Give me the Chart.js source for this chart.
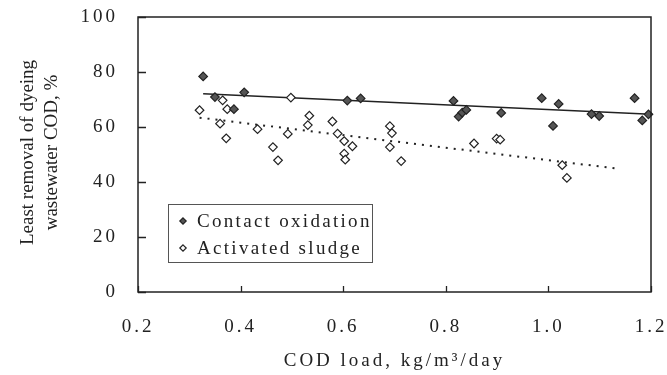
<!DOCTYPE html>
<html>
<head>
<meta charset="utf-8">
<script src="https://cdn.jsdelivr.net/npm/chart.js@4/dist/chart.umd.min.js"></script>
<style>
  html, body { margin: 0; padding: 0; background: #fff; }
  #wrap { width: 667px; height: 375px; }
</style>
</head>
<body>
<div id="wrap"><canvas id="chart-cod" width="667" height="375"></canvas></div>
<script>
'use strict';

// Datos
const contactLoad = [0.327, 0.350, 0.387, 0.407, 0.608, 0.634, 0.815, 0.825, 0.832, 0.840,
  0.908, 0.987, 1.009, 1.020, 1.084, 1.099, 1.168, 1.183, 1.195];
const contactRemoval = [78.4, 70.9, 66.5, 72.6, 69.6, 70.4, 69.5, 63.8, 65.2, 66.2,
  65.1, 70.5, 60.4, 68.4, 64.7, 64.0, 70.5, 62.4, 64.6];

const sludgeLoad = [0.320, 0.360, 0.365, 0.372, 0.374, 0.433, 0.463, 0.473, 0.492, 0.498,
  0.531, 0.534, 0.579, 0.589, 0.602, 0.602, 0.604, 0.618, 0.691, 0.691, 0.695, 0.713,
  0.855, 0.899, 0.906, 1.027, 1.036];
const sludgeRemoval = [66.1, 61.2, 69.7, 55.9, 66.5, 59.2, 52.7, 47.9, 57.5, 70.7,
  60.7, 64.1, 62.0, 57.6, 54.9, 50.3, 48.1, 53.0, 60.3, 52.7, 57.8, 47.6,
  54.0, 55.8, 55.4, 46.1, 41.5];

// rectas de tendencia (extremos leídos)
const contactTrendLoad = [0.327, 1.2];
const contactTrendRemoval = [72.1, 64.6];
const sludgeTrendLoad = [0.32, 1.133];
const sludgeTrendRemoval = [63.4, 44.9];

const xTicks = [0.2, 0.4, 0.6, 0.8, 1.0, 1.2];
const yTicks = [0, 20, 40, 60, 80, 100];

const seriesLabels = ['Contact oxidation', 'Activated sludge'];
const xTitle = 'COD load, kg/m\u00B3/day';
const yTitle = ['Least removal of dyeing', 'wastewater COD, %'];

const FONT = "'Liberation Serif', 'Times New Roman', serif";
const INK = '#222';

function toPoints(xs, ys) {
  return xs.map(function (x, i) {
    return { x: x, y: ys[i] };
  });
}

function drawDiamond(ctx, x, y, r, filled) {
  ctx.beginPath();
  ctx.moveTo(x, y - r);
  ctx.lineTo(x + r, y);
  ctx.lineTo(x, y + r);
  ctx.lineTo(x - r, y);
  ctx.closePath();
  ctx.fillStyle = filled ? '#555' : '#fff';
  ctx.fill();
  ctx.lineWidth = 1.2;
  ctx.strokeStyle = INK;
  ctx.stroke();
}

// marco, ticks hacia dentro, título Y y leyenda
const framePlugin = {
  id: 'frame',
  beforeDraw: function (chart) {
    chart.ctx.letterSpacing = '3px';
  },
  afterDraw: function (chart) {
    const ctx = chart.ctx;
    const a = chart.chartArea;
    const sx = chart.scales.x;
    const sy = chart.scales.y;

    ctx.save();
    ctx.letterSpacing = '0px';
    ctx.strokeStyle = INK;
    ctx.lineWidth = 1.5;
    ctx.strokeRect(a.left, a.top, a.right - a.left, a.bottom - a.top);

    ctx.lineWidth = 1.3;
    ctx.beginPath();
    yTicks.forEach(function (v) {
      const py = Math.round(sy.getPixelForValue(v)) + 0.5;
      ctx.moveTo(a.left, py);
      ctx.lineTo(a.left + 8, py);
    });
    xTicks.forEach(function (v) {
      const px = Math.round(sx.getPixelForValue(v)) + 0.5;
      ctx.moveTo(px, a.bottom);
      ctx.lineTo(px, a.bottom - 6);
    });
    ctx.stroke();

    // título del eje Y en dos líneas
    ctx.fillStyle = INK;
    ctx.font = '19px ' + FONT;
    ctx.textAlign = 'center';
    ctx.textBaseline = 'middle';
    const cy = (a.top + a.bottom) / 2 - 2;
    ctx.translate(28, cy);
    ctx.rotate(-Math.PI / 2);
    ctx.fillText(yTitle[0], 0, 0);
    ctx.fillText(yTitle[1], 0, 24);
    ctx.restore();

    // leyenda
    ctx.save();
    const bx = a.left + 30;
    const by = a.top + 187;
    ctx.strokeStyle = '#555';
    ctx.lineWidth = 1;
    ctx.strokeRect(bx + 0.5, by + 0.5, 204, 58);
    ctx.font = '19px ' + FONT;
    ctx.letterSpacing = '2.3px';
    ctx.fillStyle = INK;
    ctx.textAlign = 'left';
    ctx.textBaseline = 'middle';
    seriesLabels.forEach(function (label, i) {
      const ly = by + 17 + i * 27;
      drawDiamond(ctx, bx + 15, ly, 3.2, i === 0);
      ctx.fillStyle = INK;
      ctx.fillText(label, bx + 29, ly + 1);
    });
    ctx.restore();
  }
};

const canvas = document.getElementById('chart-cod');

new Chart(canvas.getContext('2d'), {
  type: 'scatter',
  data: {
    datasets: [
      {
        label: seriesLabels[0],
        data: toPoints(contactLoad, contactRemoval),
        pointStyle: 'rectRot',
        pointRadius: 4.3,
        pointBackgroundColor: '#555',
        pointBorderColor: INK,
        pointBorderWidth: 1.2,
        clip: false
      },
      {
        label: seriesLabels[1],
        data: toPoints(sludgeLoad, sludgeRemoval),
        pointStyle: 'rectRot',
        pointRadius: 4.3,
        pointBackgroundColor: '#fff',
        pointBorderColor: INK,
        pointBorderWidth: 1.2,
        clip: false
      },
      {
        label: 'trend contact',
        data: toPoints(contactTrendLoad, contactTrendRemoval),
        showLine: true,
        pointRadius: 0,
        borderColor: INK,
        borderWidth: 1.5,
        order: 1
      },
      {
        label: 'trend sludge',
        data: toPoints(sludgeTrendLoad, sludgeTrendRemoval),
        showLine: true,
        pointRadius: 0,
        borderColor: INK,
        borderWidth: 2,
        borderDash: [2, 6],
        order: 1
      }
    ]
  },
  options: {
    responsive: false,
    animation: false,
    devicePixelRatio: 1,
    layout: { padding: { left: 0, right: 16, top: 17, bottom: 0 } },
    plugins: {
      legend: { display: false },
      tooltip: { enabled: false }
    },
    scales: {
      x: {
        type: 'linear',
        min: 0.2,
        max: 1.2,
        afterBuildTicks: function (s) {
          s.ticks = xTicks.map(function (v) { return { value: v }; });
        },
        afterFit: function (s) {
          s.height = 83;
          s.paddingLeft = 0;
          s.paddingRight = 0;
        },
        grid: { display: false, drawTicks: false },
        border: { display: false },
        ticks: {
          padding: 24,
          color: INK,
          font: { family: FONT, size: 19 },
          maxRotation: 0,
          callback: function (v) { return Number(v).toFixed(1); }
        },
        title: {
          display: true,
          text: xTitle,
          color: INK,
          font: { family: FONT, size: 19 },
          padding: { top: 0, bottom: 3 }
        }
      },
      y: {
        type: 'linear',
        min: 0,
        max: 100,
        afterBuildTicks: function (s) {
          s.ticks = yTicks.map(function (v) { return { value: v }; });
        },
        afterFit: function (s) {
          s.width = 138;
          s.paddingTop = 0;
          s.paddingBottom = 0;
        },
        grid: { display: false, drawTicks: false },
        border: { display: false },
        ticks: {
          padding: 20,
          color: INK,
          font: { family: FONT, size: 19 }
        }
      }
    }
  },
  plugins: [framePlugin]
});
</script>
</body>
</html>
